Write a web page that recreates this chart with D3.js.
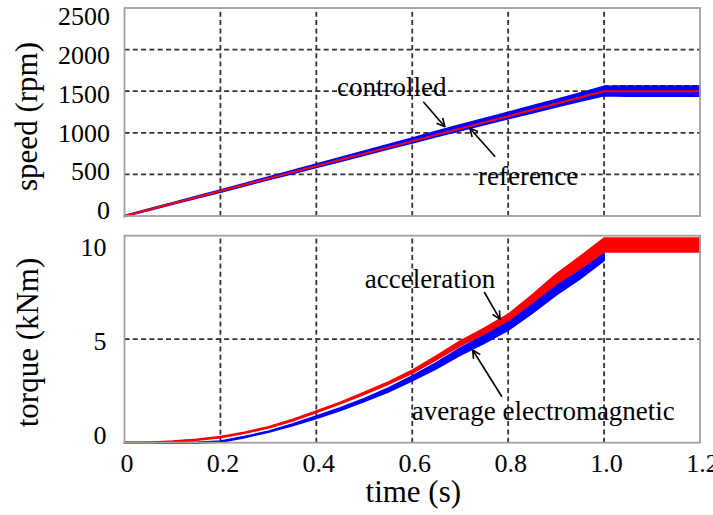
<!DOCTYPE html>
<html><head>
<script src="https://cdn.jsdelivr.net/npm/d3@7"></script>
</head><body style="margin:0">
<svg id="c" width="713" height="515"></svg>
<script>
// ---- data ----
const time = [0,0.05,0.1,0.15,0.2,0.25,0.3,0.35,0.4,0.45,0.5,0.55,0.6,0.65,0.7,0.75,0.8,0.85,0.9,0.95,1.0,1.05,1.1,1.15,1.2];
const speedReference = [0,75,150,225,300,375,450,525,600,675,750,825,900,975,1050,1125,1200,1275,1350,1425,1500,1500,1500,1500,1500];
const speedControlled = [0,75,150,225,300,376,452,528,604,680,756,832,908,985,1060,1134,1208,1282,1356,1430,1502,1500,1500,1500,1500];
const speedRipple = [6,8,10,12,14,16,18,20,22,24,26,28,30,33,36,38,40,43,46,50,58,62,62,62,62];
const torqueAcceleration = [0,0,0.05,0.14,0.27,0.48,0.74,1.08,1.5,1.92,2.39,2.88,3.43,4.1,4.8,5.4,6.05,6.95,7.9,8.7,9.55,9.55,9.55,9.55,9.55];
const accelerationRipple = [0.03,0.03,0.03,0.03,0.03,0.03,0.03,0.04,0.04,0.04,0.05,0.06,0.08,0.1,0.12,0.14,0.16,0.2,0.25,0.3,0.34,0.34,0.34,0.34,0.34];
const torqueElectromagnetic = [0,0,0,0,0.05,0.27,0.53,0.86,1.23,1.62,2.06,2.55,3.11,3.72,4.4,5.0,5.65,6.5,7.45,8.25,9.1,null,null,null,null];
const electromagneticRipple = [0.03,0.03,0.03,0.03,0.03,0.03,0.03,0.05,0.06,0.07,0.08,0.1,0.12,0.15,0.18,0.2,0.22,0.26,0.32,0.34,0.3,0,0,0,0];
const xTicks = [0,0.2,0.4,0.6,0.8,1.0,1.2];
const xTickLabels = ["0","0.2","0.4","0.6","0.8","1.0","1.2"];
const speedTicks = [0,500,1000,1500,2000,2500];
const speedTickLabels = ["0","500","1000","1500","2000","2500"];
const torqueTicks = [0,5,10];
const torqueTickLabels = ["0","5","10"];
const speedGrid = [500,1000,1500,2000];
const torqueGrid = [5];
const timeGrid = [0.2,0.4,0.6,0.8,1.0];
// annotations: [label, textTime, textValue, arrowFromTime, arrowFromValue, arrowTipTime, arrowTipValue]
const speedNotes = [["controlled",0.443,1442,0.623,1374,0.668,1073],["reference",0.737,373,0.773,713,0.720,1054]];
const torqueNotes = [["acceleration",0.501,7.47,0.750,7.28,0.783,5.96],["average electromagnetic",0.599,1.10,0.787,2.22,0.726,4.48]];
const fams = ["Liberation Serif"];

// ---- drawing ----
const svg = d3.select("#c");
function ff(sel, size){
  return sel.style("font-family","'"+fams[0]+"'").attr("font-size",size);
}
const x = d3.scaleLinear().domain([0,1.2]).range([124.5,700]);
const yS = d3.scaleLinear().domain([0,2500]).range([216,8]);
const yT = d3.scaleLinear().domain([0,10]).range([442.7,235.7]);
const ySLab = d3.scaleLinear().domain([0,2500]).range([210,15.7]);
const yTLab = d3.scaleLinear().domain([0,10]).range([435,246.7]);

svg.append("defs").append("marker").attr("id","arr").attr("viewBox","0 0 10 10")
  .attr("refX",9).attr("refY",5).attr("markerWidth",10).attr("markerHeight",10)
  .attr("markerUnits","userSpaceOnUse").attr("orient","auto")
  .append("path").attr("d","M1,1 L9,5 L1,9").attr("fill","none").attr("stroke","#000").attr("stroke-width",1.6);

function grid(y, yVals){
  const g = svg.append("g").attr("stroke","#333").attr("stroke-width",1.8).attr("stroke-dasharray","5,3.3");
  yVals.forEach(v=>g.append("line").attr("x1",x(0)).attr("x2",x(1.2)).attr("y1",y(v)).attr("y2",y(v)));
  timeGrid.forEach(t=>g.append("line").attr("x1",x(t)).attr("x2",x(t)).attr("y1",y.range()[0]).attr("y2",y.range()[1]));
}
grid(yS, speedGrid);
grid(yT, torqueGrid);

const rows = time.map((t,i)=>({t, sr:speedReference[i], sc:speedControlled[i], sp:speedRipple[i],
  ta:torqueAcceleration[i], ar:accelerationRipple[i], te:torqueElectromagnetic[i], er:electromagneticRipple[i]}));

function band(y, key, rip){
  return d3.area().defined(d=>d[key]!=null).x(d=>x(d.t)).y0(d=>y(d[key]-d[rip])).y1(d=>y(d[key]+d[rip])).curve(d3.curveLinear);
}
// speed panel
svg.append("path").datum(rows).attr("d",band(yS,"sc","sp")).attr("fill","#0000ff").attr("stroke","#0000ff").attr("stroke-width",1.5);
svg.append("path").datum(rows.filter(d=>d.t>=1.0)).attr("fill","none").attr("stroke","#0000ff").attr("stroke-width",2)
  .attr("stroke-dasharray","5,3").attr("d",d3.line().x(d=>x(d.t)).y(d=>yS(d.sc+d.sp)));
svg.append("path").datum(rows).attr("fill","none").attr("stroke","#ff0000").attr("stroke-width",2)
  .attr("d",d3.line().x(d=>x(d.t)).y(d=>yS(d.sr)));
// torque panel
svg.append("path").datum(rows).attr("d",band(yT,"te","er")).attr("fill","#0000ff").attr("stroke","#0000ff").attr("stroke-width",1.4);
svg.append("path").datum(rows).attr("d",band(yT,"ta","ar")).attr("fill","#ff0000").attr("stroke","#ff0000").attr("stroke-width",1.4);

// frames
[yS,yT].forEach(y=>{
  svg.append("rect").attr("x",x(0)).attr("y",y.range()[1]).attr("width",x(1.2)-x(0)).attr("height",y.range()[0]-y.range()[1])
    .attr("fill","none").attr("stroke","#a0a0a0").attr("stroke-width",1.8);
});

// axes (labels only)
function styleAxis(g){
  g.attr("font-family",null).attr("font-size",null);
  g.select(".domain").remove();
  ff(g.selectAll("text"),26).attr("fill","#000");
}
svg.append("g").attr("transform","translate(2,442.7)")
  .call(d3.axisBottom(x).tickValues(xTicks).tickFormat((d,i)=>xTickLabels[i]).tickSize(0))
  .call(styleAxis).call(g=>g.selectAll("text").attr("y",29.3).attr("dy",0));
svg.append("g").attr("transform","translate(110,0)")
  .call(d3.axisLeft(ySLab).tickValues(speedTicks).tickFormat((d,i)=>speedTickLabels[i]).tickSize(0).tickPadding(0))
  .call(styleAxis).call(g=>g.selectAll("text").attr("dy","0.34em"));
svg.append("g").attr("transform","translate(106.5,0)")
  .call(d3.axisLeft(yTLab).tickValues(torqueTicks).tickFormat((d,i)=>torqueTickLabels[i]).tickSize(0).tickPadding(0))
  .call(styleAxis).call(g=>g.selectAll("text").attr("dy","0.34em"));

// axis titles
function axisTitle(tr, txt){
  ff(svg.append("text").attr("transform",tr).attr("text-anchor","middle"),31).text(txt);
}
axisTitle("translate(413.3,502)","time (s)");
axisTitle("translate(37,116.5) rotate(-90)","speed (rpm)");
axisTitle("translate(38,342.5) rotate(-90)","torque (kNm)");

// annotations
function notes(list, y){
  list.forEach(n=>{
    ff(svg.append("text").attr("x",x(n[1])).attr("y",y(n[2])),27).text(n[0]);
    svg.append("line").attr("x1",x(n[3])).attr("y1",y(n[4])).attr("x2",x(n[5])).attr("y2",y(n[6]))
      .attr("stroke","#000").attr("stroke-width",1.6).attr("marker-end","url(#arr)");
  });
}
notes(speedNotes, yS);
notes(torqueNotes, yT);
</script>
</body></html>
